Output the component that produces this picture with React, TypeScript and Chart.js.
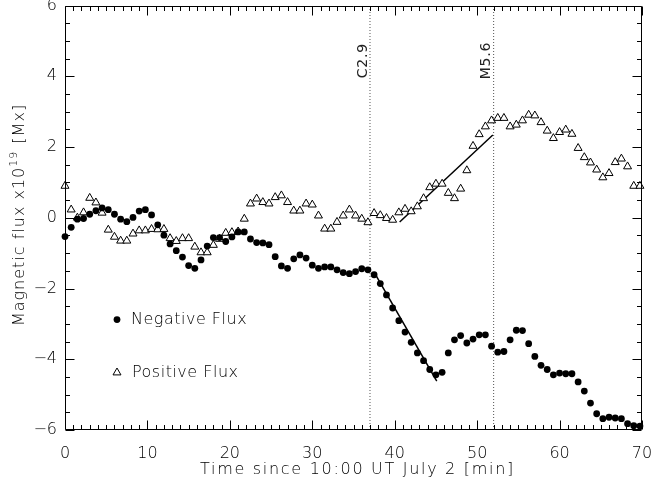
import React, { useEffect, useRef } from 'react';
import { Chart, registerables } from 'chart.js';

Chart.register(...registerables);

// Sampling cadence of the time series (minutes between frames)
const CADENCE_MIN = 0.75;

// Negative magnetic flux (x10^19 Mx), one value per frame
const negativeFlux = [
  -0.53, -0.27, -0.04, -0.02, 0.10, 0.20, 0.28, 0.23, 0.10, -0.04,
  -0.11, 0.01, 0.19, 0.23, 0.08, -0.20, -0.49, -0.74, -0.93, -1.11,
  -1.35, -1.43, -1.19, -0.80, -0.56, -0.56, -0.67, -0.54, -0.40, -0.40,
  -0.60, -0.70, -0.71, -0.76, -1.10, -1.36, -1.43, -1.16, -1.05, -1.14,
  -1.34, -1.43, -1.39, -1.39, -1.47, -1.55, -1.58, -1.52, -1.44, -1.47,
  -1.61, -1.86, -2.18, -2.55, -2.91, -3.23, -3.52, -3.82, -4.04, -4.29,
  -4.44, -4.37, -3.82, -3.45, -3.33, -3.54, -3.43, -3.31, -3.31, -3.63,
  -3.80, -3.78, -3.45, -3.18, -3.19, -3.56, -3.92, -4.17, -4.29, -4.44,
  -4.39, -4.41, -4.41, -4.64, -4.90, -5.24, -5.54, -5.68, -5.64, -5.66,
  -5.68, -5.82, -5.88, -5.89,
];

// Positive magnetic flux (x10^19 Mx), one value per frame
const positiveFlux = [
  0.90, 0.23, 0.00, 0.15, 0.56, 0.43, 0.14, -0.34, -0.54, -0.65,
  -0.65, -0.45, -0.36, -0.36, -0.32, -0.33, -0.32, -0.58, -0.66, -0.58,
  -0.58, -0.82, -0.98, -0.98, -0.77, -0.60, -0.43, -0.41, -0.39, -0.03,
  0.40, 0.54, 0.44, 0.40, 0.58, 0.63, 0.44, 0.20, 0.20, 0.40,
  0.37, 0.06, -0.31, -0.31, -0.12, 0.06, 0.23, 0.06, -0.03, -0.13,
  0.13, 0.07, -0.01, -0.06, 0.15, 0.25, 0.18, 0.32, 0.55, 0.86,
  0.96, 0.96, 0.70, 0.55, 0.82, 1.34, 2.03, 2.36, 2.58, 2.75,
  2.82, 2.82, 2.58, 2.63, 2.75, 2.91, 2.89, 2.70, 2.46, 2.25,
  2.42, 2.49, 2.37, 1.97, 1.71, 1.56, 1.36, 1.14, 1.26, 1.57,
  1.67, 1.45, 0.90, 0.90,
];

// Flare onset times (min) and labels
const flareTimes = [37, 52];
const flareLabels = ['C2.9', 'M5.6'];

// Linear fits: [start, end]
const negFitX = [37.6, 45.1];
const negFitY = [-1.58, -4.62];
const posFitX = [40.6, 51.9];
const posFitY = [-0.12, 2.34];

// Axes
const xMin = 0, xMax = 70, xStep = 10, xMinorStep = 1;
const yMin = -6, yMax = 6, yStep = 2, yMinorStep = 0.5;

const xTitle = 'Time since 10:00 UT July 2 [min]';
const yTitleParts = ['Magnetic flux x10', '19', ' [Mx]'];
const legendNeg = 'Negative Flux';
const legendPos = 'Positive Flux';

const FONT = '"DejaVu Sans", sans-serif';
const WEIGHT = '200';
const TEXT = '#000';

const framePlugin = {
  id: 'frameTicks',
  afterDraw(chart: any) {
    const { ctx, chartArea: a, scales } = chart;
    const xs = scales.x, ys = scales.y;
    ctx.save();
    ctx.strokeStyle = '#000';
    ctx.lineWidth = 1;
    const L = Math.round(a.left) + 0.5, R = Math.round(a.right) - 0.5;
    const T = Math.round(a.top) + 0.5, B = Math.round(a.bottom) - 0.5;
    ctx.beginPath();
    ctx.rect(L, T, R - L, B - T);
    ctx.stroke();
    ctx.beginPath();
    for (let v = xMin; v <= xMax + 1e-9; v += xMinorStep) {
      const major = Math.abs(v / xStep - Math.round(v / xStep)) < 1e-6;
      const len = major ? 9 : 4.5;
      const px = Math.round(xs.getPixelForValue(v)) + 0.5;
      ctx.moveTo(px, B); ctx.lineTo(px, B - len);
      ctx.moveTo(px, T); ctx.lineTo(px, T + len);
    }
    for (let v = yMin; v <= yMax + 1e-9; v += yMinorStep) {
      const major = Math.abs(v / yStep - Math.round(v / yStep)) < 1e-6;
      const len = major ? 9 : 4.5;
      const py = Math.round(ys.getPixelForValue(v)) + 0.5;
      ctx.moveTo(L, py); ctx.lineTo(L + len, py);
      ctx.moveTo(R, py); ctx.lineTo(R - len, py);
    }
    ctx.stroke();

    ctx.fillStyle = TEXT;
    const setSpacing = (s: string) => { try { (ctx as any).letterSpacing = s; } catch (e) {} };

    // flare labels
    ctx.font = `400 14px ${FONT}`;
    ctx.fillStyle = '#222';
    setSpacing('0.8px');
    ctx.textAlign = 'center';
    ctx.textBaseline = 'middle';
    flareTimes.forEach((t, i) => {
      const px = xs.getPixelForValue(t);
      ctx.save();
      ctx.translate(px - 7, a.top + 55);
      ctx.rotate(-Math.PI / 2);
      ctx.fillText(flareLabels[i], 0, 0);
      ctx.restore();
    });
    ctx.fillStyle = TEXT;

    // x-axis title
    ctx.font = `${WEIGHT} 16px ${FONT}`;
    setSpacing('1.7px');
    ctx.textAlign = 'center';
    ctx.textBaseline = 'middle';
    ctx.fillText(xTitle, (a.left + a.right) / 2 + 4, 470);

    // y-axis title with superscript
    const big = `${WEIGHT} 16px ${FONT}`;
    const small = `${WEIGHT} 11px ${FONT}`;
    setSpacing('1px');
    ctx.font = big;
    const w0 = ctx.measureText(yTitleParts[0]).width;
    const w2 = ctx.measureText(yTitleParts[2]).width;
    ctx.font = small;
    const w1 = ctx.measureText(yTitleParts[1]).width + 1;
    const total = w0 + w1 + w2;
    ctx.save();
    ctx.translate(18, 215);
    ctx.rotate(-Math.PI / 2);
    ctx.textAlign = 'left';
    ctx.textBaseline = 'alphabetic';
    let cx = -total / 2;
    ctx.font = big;
    ctx.fillText(yTitleParts[0], cx, 6);
    cx += w0;
    ctx.font = small;
    ctx.fillText(yTitleParts[1], cx, -1);
    cx += w1;
    ctx.font = big;
    ctx.fillText(yTitleParts[2], cx, 6);
    ctx.restore();

    // legend
    ctx.font = `${WEIGHT} 16px ${FONT}`;
    setSpacing('0.5px');
    ctx.textAlign = 'left';
    ctx.textBaseline = 'middle';
    const lx = a.left + 52;
    const ly1 = a.top + 314;
    const ly2 = a.top + 367;
    ctx.beginPath();
    ctx.arc(lx, ly1, 3.4, 0, Math.PI * 2);
    ctx.fill();
    ctx.fillText(legendNeg, lx + 14, ly1);
    const r = 4.6;
    ctx.beginPath();
    ctx.moveTo(lx, ly2 - r);
    ctx.lineTo(lx + r * Math.sin((2 * Math.PI) / 3), ly2 - r * Math.cos((2 * Math.PI) / 3));
    ctx.lineTo(lx + r * Math.sin((4 * Math.PI) / 3), ly2 - r * Math.cos((4 * Math.PI) / 3));
    ctx.closePath();
    ctx.stroke();
    ctx.fillText(legendPos, lx + 15, ly2);
    setSpacing('0px');
    ctx.restore();
  },
};

export default function App() {
  const ref = useRef<HTMLCanvasElement>(null);
  useEffect(() => {
    document.body.style.margin = '0';
    const canvas = ref.current!;
    const toPts = (arr: number[]) => arr.map((v, i) => ({ x: i * CADENCE_MIN, y: v }));
    const chart = new Chart(canvas, {
      type: 'scatter',
      data: {
        datasets: [
          {
            label: legendNeg,
            data: toPts(negativeFlux),
            pointStyle: 'circle',
            pointRadius: 3.4,
            backgroundColor: '#000',
            borderColor: '#000',
            borderWidth: 0,
            showLine: false,
            clip: false,
          } as any,
          {
            label: legendPos,
            data: toPts(positiveFlux),
            pointStyle: 'triangle',
            pointRadius: 4.6,
            backgroundColor: '#fff',
            borderColor: '#000',
            borderWidth: 1,
            showLine: false,
            clip: false,
          } as any,
          {
            label: 'neg fit',
            data: negFitX.map((x, i) => ({ x, y: negFitY[i] })),
            showLine: true,
            borderColor: '#000',
            borderWidth: 1.5,
            pointRadius: 0,
          } as any,
          {
            label: 'pos fit',
            data: posFitX.map((x, i) => ({ x, y: posFitY[i] })),
            showLine: true,
            borderColor: '#000',
            borderWidth: 1.5,
            pointRadius: 0,
          } as any,
          ...flareTimes.map((t) => ({
            label: 'flare',
            data: [{ x: t, y: yMin }, { x: t, y: yMax }],
            showLine: true,
            borderColor: '#555',
            borderWidth: 1,
            borderDash: [1, 2],
            pointRadius: 0,
          } as any)),
        ],
      },
      options: {
        responsive: false,
        animation: false,
        events: [],
        layout: { padding: { left: 0, top: 5, right: 12, bottom: 0 } },
        plugins: {
          legend: { display: false },
          tooltip: { enabled: false },
        },
        scales: {
          x: {
            type: 'linear',
            min: xMin,
            max: xMax,
            grid: { display: false, drawTicks: false },
            border: { display: false },
            ticks: {
              stepSize: xStep,
              padding: 14,
              color: TEXT,
              font: { family: FONT, size: 16, weight: WEIGHT as any },
              maxRotation: 0,
            },
            title: { display: false },
            afterFit(scale: any) {
              scale.height = 59;
              scale.paddingLeft = 0;
              scale.paddingRight = 0;
            },
          },
          y: {
            type: 'linear',
            min: yMin,
            max: yMax,
            grid: { display: false, drawTicks: false },
            border: { display: false },
            ticks: {
              stepSize: yStep,
              padding: 8,
              color: TEXT,
              font: { family: FONT, size: 16, weight: WEIGHT as any },
              callback: (v: any) => (v < 0 ? '\u2212' + Math.abs(v) : String(v)),
            },
            title: { display: false },
            afterFit(scale: any) {
              scale.width = 65;
              scale.paddingTop = 0;
              scale.paddingBottom = 0;
            },
          },
        },
      },
      plugins: [framePlugin],
    });
    return () => chart.destroy();
  }, []);
  return <canvas ref={ref} width={654} height={489} style={{ display: 'block' }} />;
}
